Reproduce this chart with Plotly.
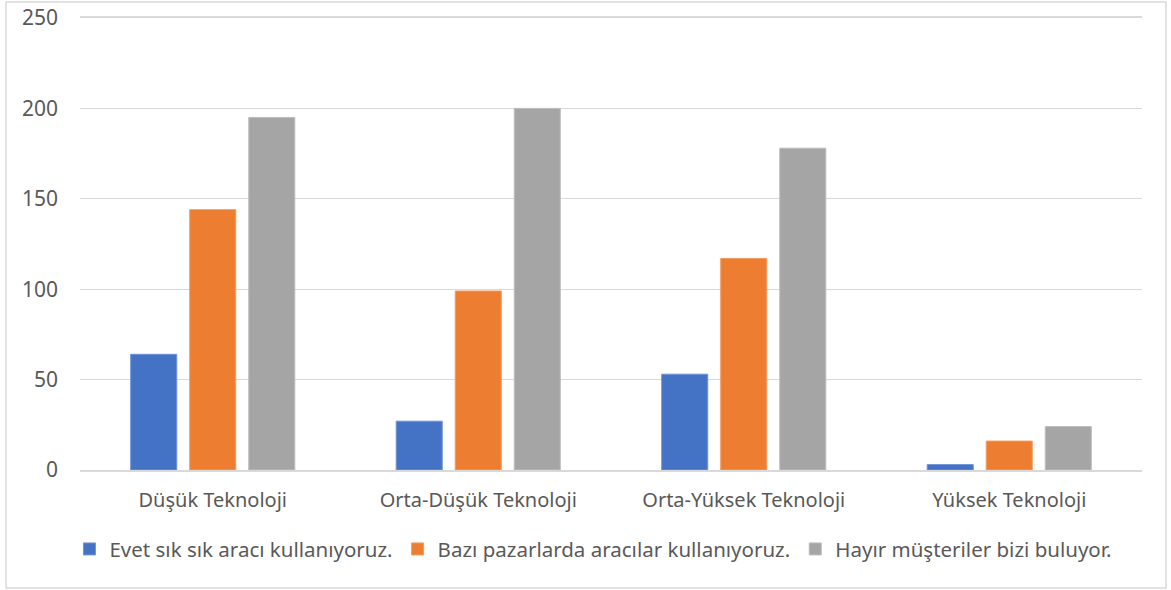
import plotly.graph_objects as go

categories = ["Düşük Teknoloji", "Orta-Düşük Teknoloji", "Orta-Yüksek Teknoloji", "Yüksek Teknoloji"]
series_names = ["Evet sık sık aracı kullanıyoruz.",
                "Bazı pazarlarda aracılar kullanıyoruz.",
                "Hayır müşteriler bizi buluyor."]
evet = [64, 27, 53, 3]
bazi = [144, 99, 117, 16]
hayir = [195, 200, 178, 24]
y_ticks = [0, 50, 100, 150, 200, 250]

colors = ["#4472C4", "#ED7D31", "#A5A5A5"]
edges = ["#6f93d6", "#f49a5c", "#bdbdbd"]

fig = go.Figure()
for name, vals, c, e in zip(series_names, [evet, bazi, hayir], colors, edges):
    fig.add_trace(go.Bar(x=categories, y=vals, name=name,
                         marker=dict(color=c, line=dict(color=e, width=1))))

W, H = 1171, 590
ml, mr, mt, mb = 80, 29, 18, 120
pw, ph = W - ml - mr, H - mt - mb

fig.update_layout(
    width=W, height=H,
    margin=dict(l=ml, r=mr, t=mt, b=mb, autoexpand=False),
    paper_bgcolor="white", plot_bgcolor="white",
    barmode="group", bargap=0.333, bargroupgap=0.22,
    font=dict(family="Noto Sans", size=20, color="#595959"),
    showlegend=True,
    legend=dict(orientation="h", x=0.483, xanchor="center", y=-0.175, yanchor="middle",
                font=dict(size=20.5, color="#595959"), traceorder="normal",
                itemwidth=30, tracegroupgap=0),
    xaxis=dict(showgrid=False, showline=True, linecolor="#d9d9d9", linewidth=1.5,
               mirror=True,
               ticks="", tickfont=dict(size=20, color="#595959"), ticklabelstandoff=11,
               automargin=False),
    yaxis=dict(range=[0, 250], tickvals=y_ticks, showgrid=True, gridcolor="#d9d9d9",
               gridwidth=1, zeroline=False, showline=False, ticks="",
               tickfont=dict(size=21, color="#595959"), ticklabelstandoff=21,
               automargin=False),
    shapes=[dict(type="rect", xref="paper", yref="paper",
                 x0=(6 - ml) / pw, x1=(1166 - ml) / pw,
                 y0=(H - mb - 588) / ph, y1=(H - mb - 2) / ph,
                 line=dict(color="#d9d9d9", width=1.5), fillcolor="rgba(0,0,0,0)")],
)

fig.write_html("out.html")
